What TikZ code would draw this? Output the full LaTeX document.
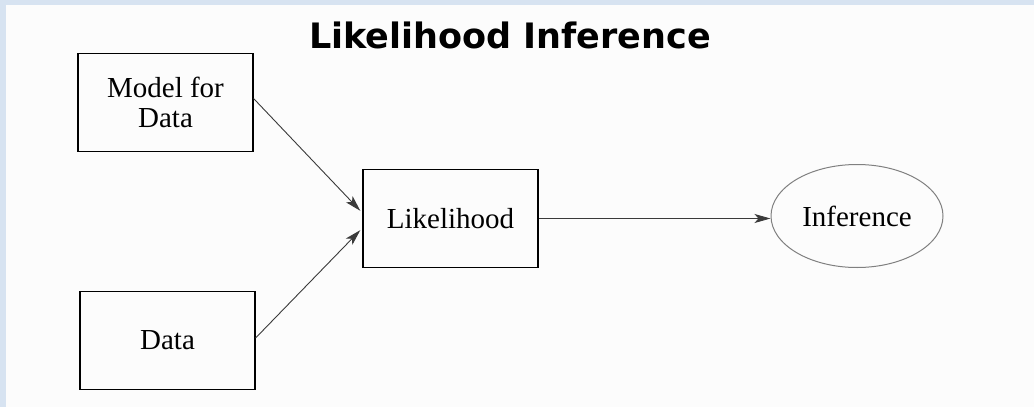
\documentclass[tikz,border=0pt]{standalone}
\usepackage{fontspec}
\setmainfont{Liberation Serif}
\newfontfamily\titlefont{DejaVu Sans}
\usepackage{tikz}
\usetikzlibrary{shapes.geometric,arrows.meta}
\definecolor{slideblue}{HTML}{D7E3F1}
\definecolor{paperwhite}{HTML}{FCFCFC}
\definecolor{edgegrey}{HTML}{3A3A3A}

\begin{document}
\begin{tikzpicture}[
  x=1pt, y=-1pt,
  every node/.style={font=\fontsize{29}{30}\selectfont},
  block/.style={draw, line width=1.2pt, minimum width=175pt,
    minimum height=98pt, inner sep=0pt, align=center},
  target/.style={draw=gray, line width=1pt, ellipse, minimum width=172pt,
    minimum height=103pt, inner sep=0pt},
  link/.style={-{Stealth[length=16pt, width=9pt, inset=4pt]}, edgegrey,
    line width=0.9pt, shorten >=3pt}]
% slide background
\useasboundingbox (0,0) rectangle (1034,407);
\fill[slideblue] (0,0) rectangle (1034,407);
\fill[paperwhite] (6,5) rectangle (1034,407);
\node[font=\titlefont\bfseries\fontsize{35}{40}\selectfont] (title) at (510,35)
  {Likelihood Inference};
\node[block] (model) at (165.5,102.5) {Model for\\Data};
\node[block] (data) at (167.5,340.5) {Data};
\node[block] (lik) at (450.5,218.5) {Likelihood};
\node[target] (inf) at (857,216) {Inference};
\draw[link] ([yshift=4pt]model.east) -- ([yshift=5.5pt]lik.west);
\draw[link] ([yshift=2.5pt]data.east) -- ([yshift=-9.5pt]lik.west);
\draw[link, shorten >=0pt] (lik.east) -- (lik.east -| inf.west);
\end{tikzpicture}
\end{document}
